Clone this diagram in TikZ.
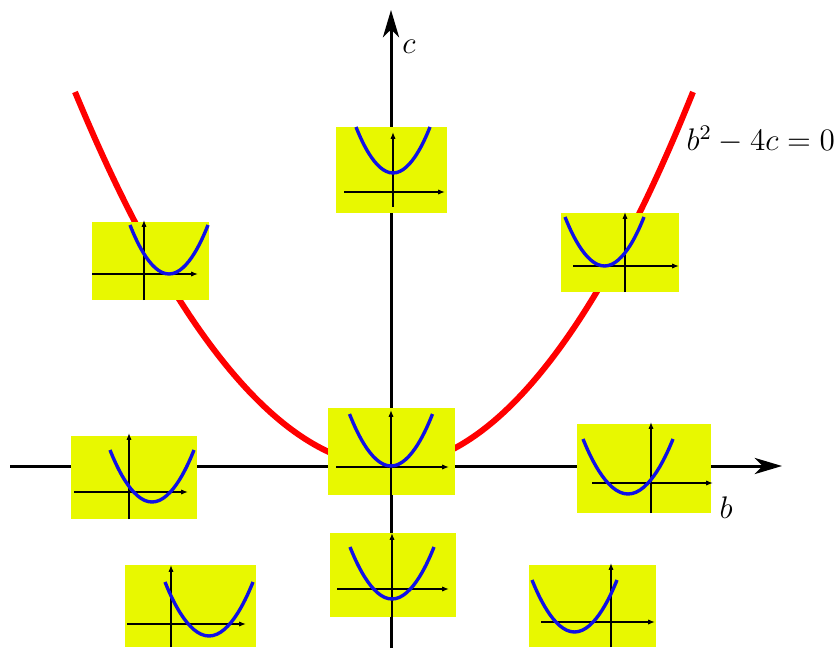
\documentclass[tikz,border=0pt]{standalone}
\usepackage{amsmath}
\usetikzlibrary{arrows.meta}
\definecolor{PanelYellow}{HTML}{E8F800}
\definecolor{RootRed}{HTML}{FF0000}
\definecolor{GraphBlue}{HTML}{1010E6}

\begin{document}
\begin{tikzpicture}[
  x=0.0135cm,
  y=-0.0135cm,
  font=\large,
  mainaxis/.style={line width=1.15pt,-{Stealth[length=10.5pt,width=6.2pt,inset=3pt]}},
  discr/.style={draw=RootRed,line width=2.3pt},
  panel/.style={fill=PanelYellow},
  miniaxis/.style={line width=0.5pt,-{Latex[length=2.6pt,width=2pt]}},
  minicurve/.style={draw=GraphBlue,line width=1.3pt}
]
\useasboundingbox (0,0) rectangle (839,648);

% b and c axes
\coordinate (bstart) at (10,466);
\coordinate (bend) at (782,466);
\coordinate (cstart) at (391,648);
\coordinate (cend) at (391,10);
\draw[mainaxis] (bstart) -- (bend);
\draw[mainaxis] (cstart) -- (cend);

% discriminant curve
\draw[discr] (75,92) parabola bend (389,466) (693,92);

% small graphs of x^2+bx+c
% box corners / origin / x-axis ends / y-axis ends / vertex / half width / end height
\foreach \bxa/\bya/\bxb/\byb/\ox/\oy/\xl/\xr/\yt/\ybot/\vx/\vy/\hw/\ey in {
  328/408/455/495/391/467/336/449/410/495/391/466/41.5/414,
  336/127/447/213/393/192/344/445/132/207/393/173/37/127,
  92/222/209/300/144/274/92/198/220/300/169/274/39/225,
  561/213/679/292/625/266/573/679/212/292/604.5/266/39.5/217,
  577/424/711/513/651/483/592/713/422/513/628/494/45/439,
  71/436/197/519/129/492/74/188/433/519/152/502/42/450,
  125/565/256/647/171/624/127/246/565/647/209/636/44/582,
  330/533/456/617/392/589/337/449/533/617/392/599/42/547,
  529/565/656/647/611/622/541/655/563/647/574.5/632/42.5/580}
{
  \fill[panel] (\bxa,\bya) rectangle (\bxb,\byb);
  \draw[miniaxis] (\xl,\oy) -- (\xr,\oy);
  \draw[miniaxis] (\ox,\ybot) -- (\ox,\yt);
  \draw[minicurve] ({\vx-\hw},\ey) parabola bend (\vx,\vy) ({\vx+\hw},\ey);
}

% labels
\node (clabel) at (409,47) {$c$};
\node (blabel) at (726,508) {$b$};
\node[anchor=base west,inner sep=0pt] (curvelabel) at (686,151) {$b^2-4c=0$};
\end{tikzpicture}
\end{document}
